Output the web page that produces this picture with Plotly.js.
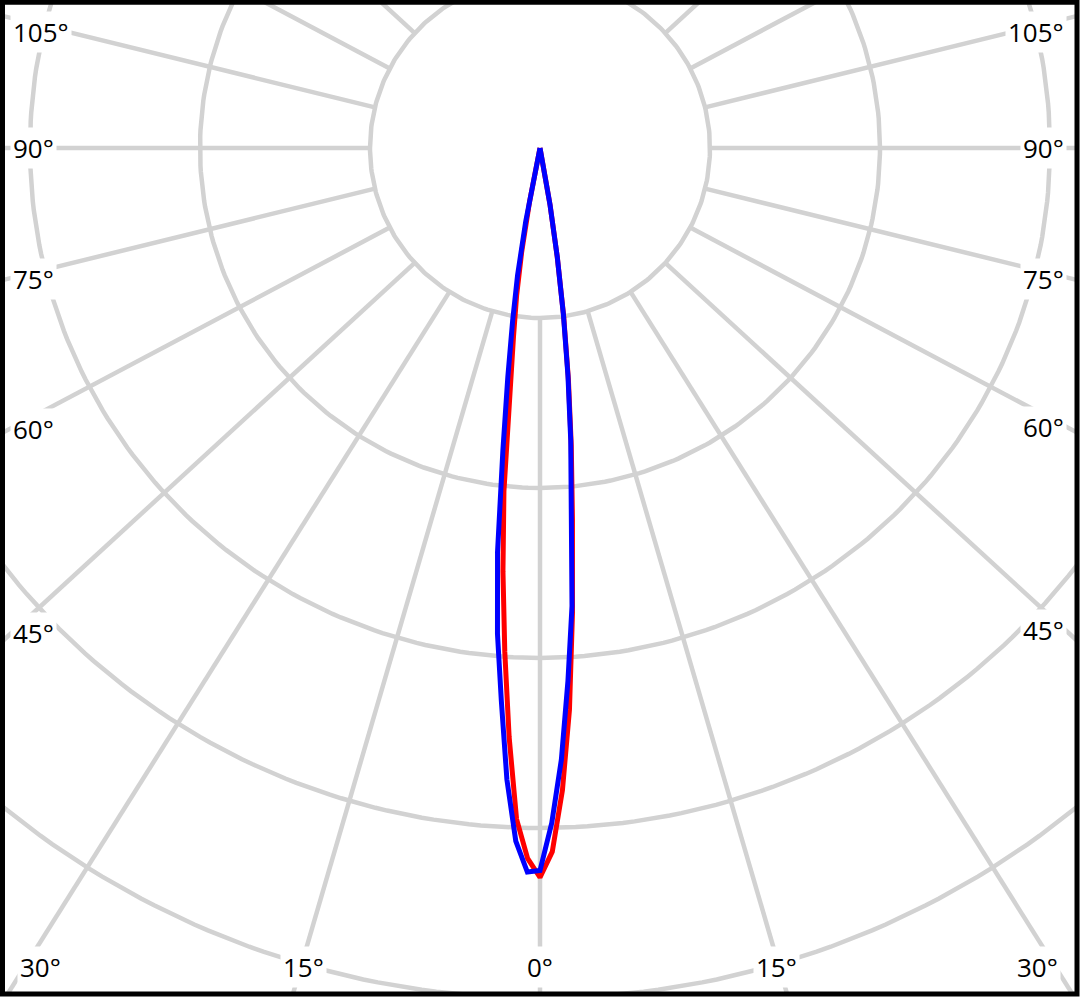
<!DOCTYPE html>
<html><head><meta charset="utf-8">
<script src="https://cdn.plot.ly/plotly-3.0.1.min.js"></script>
<style>html,body{margin:0;padding:0;background:#fff;}#chart{width:1081px;height:1000px;}</style>
</head><body><div id="chart"></div>
<script>
// ---- data: luminous intensity (relative units) vs gamma angle (deg from nadir)
const gammaDeg   = [0, 1, 2, 3, 4, 5, 6, 7, 8, 9, 10, 11, 12];
const redLeft    = [429, 418, 395, 347, 297, 250, 203, 148, 112, 88, 62, 32, 0];
const redRight   = [429, 414, 378, 331, 274, 219, 176, 137, 100, 65, 34, 0, 0];
const blueLeft   = [425, 426, 408, 372, 326, 287, 239, 179, 136, 103, 76, 44, 0];
const blueRight  = [425, 397, 360, 314, 270, 216, 173, 135, 99, 65, 34, 0, 0];

// ---- grid
const ringValues   = [100, 200, 300, 400, 500, 600];
const spokeAngles  = [0,15,30,45,60,75,90,105,120,135,150,165,180,195,210,225,240,255,270,285,300,315,330,345];
const sideLabelAngles   = [105, 90, 75, 60, 45];
const bottomLabelAngles = [30, 15, 0];

// ---- style / layout constants
const W = 1081, H = 1000;
const PX = 1.7;              // pixels per intensity unit
const CX = 540, CY = 148;    // pole position in pixels
const SPOKE_ASPECT = 1.09;   // horizontal stretch of the spokes
const FRAME = {l: 2.5, r: 1077, t: 2.3, b: 994};
const GRID_COLOR = 'rgb(210,210,210)';
const GRID_WIDTH = 4.5;
const FONT = {family: 'Open Sans, Noto Sans, sans-serif', size: 26, color: '#000'};

const rad = d => d * Math.PI / 180;
const traces = [];

// rings
ringValues.forEach(r => {
  const xs = [], ys = [];
  for (let a = 0; a <= 360; a += 1) { xs.push(r * Math.sin(rad(a))); ys.push(-r * Math.cos(rad(a))); }
  traces.push({x: xs, y: ys, mode: 'lines', line: {color: GRID_COLOR, width: GRID_WIDTH}, hoverinfo: 'skip', showlegend: false});
});
// spokes (start at the innermost ring)
const rIn = ringValues[0], rOut = 900;
spokeAngles.forEach(a => {
  const dx = SPOKE_ASPECT * Math.sin(rad(a)), dy = Math.cos(rad(a));
  const n = Math.hypot(dx, dy);
  const ux = dx / n, uy = dy / n;
  traces.push({x: [rIn * ux, rOut * ux], y: [-rIn * uy, -rOut * uy], mode: 'lines',
    line: {color: GRID_COLOR, width: GRID_WIDTH}, hoverinfo: 'skip', showlegend: false});
});

function curve(left, right, color, name) {
  const xs = [], ys = [];
  for (let i = gammaDeg.length - 1; i >= 0; i--) {
    xs.push(-left[i] * Math.sin(rad(gammaDeg[i]))); ys.push(-left[i] * Math.cos(rad(gammaDeg[i])));
  }
  for (let i = 1; i < gammaDeg.length; i++) {
    xs.push(right[i] * Math.sin(rad(gammaDeg[i]))); ys.push(-right[i] * Math.cos(rad(gammaDeg[i])));
  }
  return {x: xs, y: ys, mode: 'lines', name: name, line: {color: color, width: 5}, showlegend: false};
}
traces.push(curve(redLeft, redRight, '#ff0000', 'C0-C180'));
traces.push(curve(blueLeft, blueRight, '#0000ff', 'C90-C270'));

// labels
const annotations = [];
const pxToX = px => (px - CX) / PX;
const pxToY = py => -(py - CY) / PX;
sideLabelAngles.forEach(a => {
  [[10, 'left', 14], [1067, 'right', 1063]].forEach(([xp, anchor, xline]) => {
    const dxp = Math.abs(xline - CX);
    let yp = CY + dxp * Math.cos(rad(a)) / (SPOKE_ASPECT * Math.sin(rad(a))) + (a < 90 ? 2 : 0);
    yp = Math.max(yp, 32);
    annotations.push({x: pxToX(xp), y: pxToY(yp), xref: 'x', yref: 'y', text: a + '°', showarrow: false,
      xanchor: anchor, yanchor: 'middle', bgcolor: '#ffffff', borderpad: 2, font: FONT});
  });
});
bottomLabelAngles.forEach(a => {
  const yp = 967;
  const dxp = (yp - CY) * SPOKE_ASPECT * Math.tan(rad(a));
  const sides = a === 0 ? [1] : [-1, 1];
  sides.forEach(s => {
    let xp = CX + s * dxp - (a === 0 ? 0 : s * 3);
    xp = Math.min(Math.max(xp, FRAME.l + 38), FRAME.r - 40);
    annotations.push({x: pxToX(xp), y: pxToY(yp), xref: 'x', yref: 'y', text: a + '°', showarrow: false,
      xanchor: 'center', yanchor: 'middle', bgcolor: '#ffffff', borderpad: 2, font: FONT});
  });
});

const layout = {
  width: W, height: H,
  margin: {l: 0, r: 0, t: 0, b: 0, pad: 0},
  paper_bgcolor: '#ffffff', plot_bgcolor: '#ffffff',
  xaxis: {domain: [FRAME.l / W, FRAME.r / W], range: [pxToX(FRAME.l), pxToX(FRAME.r)], visible: false, fixedrange: true},
  yaxis: {domain: [1 - FRAME.b / H, 1 - FRAME.t / H], range: [pxToY(FRAME.b), pxToY(FRAME.t)], visible: false, fixedrange: true},
  showlegend: false,
  annotations: annotations,
  shapes: [{type: 'rect', xref: 'paper', yref: 'paper', x0: FRAME.l / W, x1: FRAME.r / W,
    y0: 1 - FRAME.b / H, y1: 1 - FRAME.t / H, line: {color: '#000000', width: 5}, layer: 'above'}]
};
Plotly.newPlot('chart', traces, layout, {displayModeBar: false, staticPlot: true});
</script></body></html>
